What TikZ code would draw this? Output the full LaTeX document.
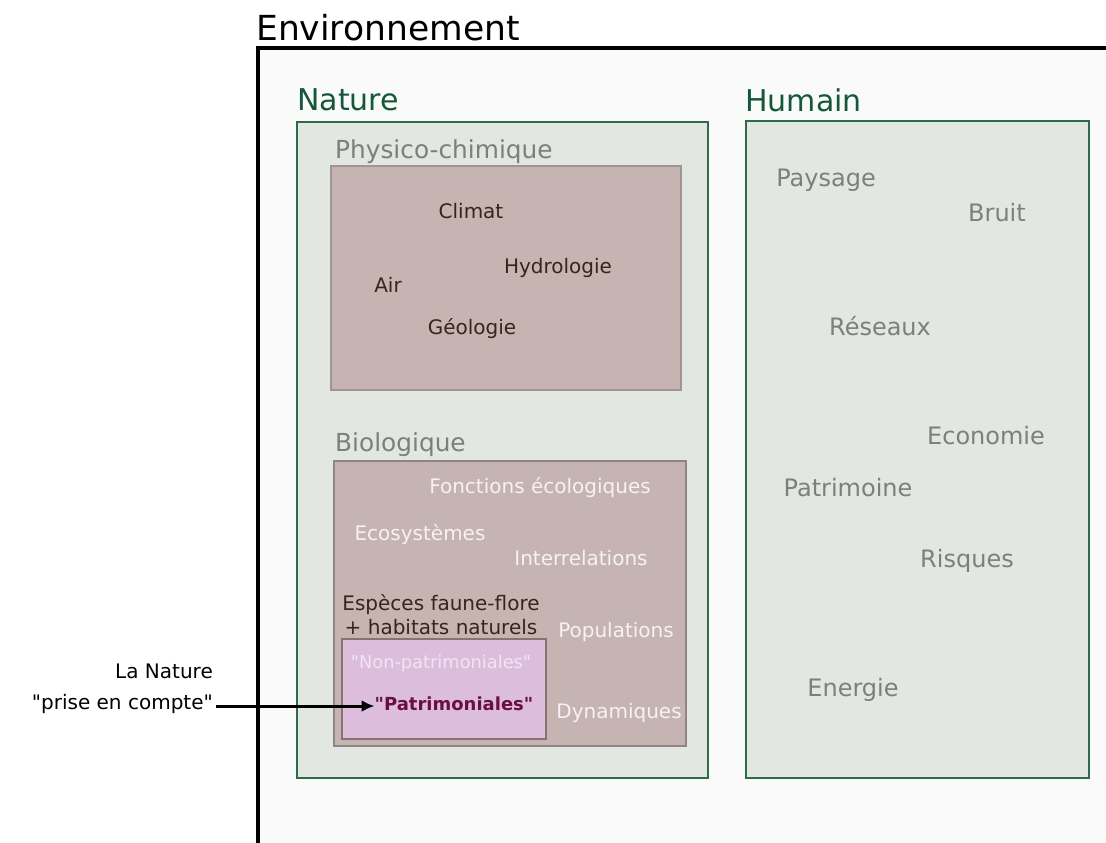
\documentclass[tikz,border=0pt]{standalone}
\usepackage{fontspec}
\setmainfont{DejaVu Sans}
\newfontfamily\qfont{DejaVu Sans}
\usetikzlibrary{arrows.meta}
\definecolor{envfill}{HTML}{FAFAFA}
\definecolor{grpfill}{HTML}{E3E7E2}
\definecolor{grpline}{HTML}{2E6B4A}
\definecolor{grptitle}{HTML}{15573A}
\definecolor{subtitle}{HTML}{7B807B}
\definecolor{mauve}{HTML}{C6B4B3}
\definecolor{mauveline}{HTML}{A09494}
\definecolor{darktext}{HTML}{35251A}
\definecolor{lighttext}{HTML}{F7F2F2}
\definecolor{pinkfill}{HTML}{DCBEDC}
\definecolor{pinkline}{HTML}{8A7272}
\definecolor{patri}{HTML}{6B0F3E}
\definecolor{humtext}{HTML}{7A817A}
\definecolor{nonpat}{HTML}{F3E4F3}
\newcommand{\dq}{{\qfont\symbol{34}}}
\tikzset{
  fs/.style={font=\fontsize{#1}{1.2\dimexpr #1pt\relax}\selectfont},
  lbl/.style={inner sep=0pt, anchor=center},
  title/.style={lbl, anchor=west},
  phys/.style={lbl, fs=20, text=darktext},
  bio/.style={lbl, fs=20, text=lighttext},
  hum/.style={lbl, fs=24, text=humtext},
}
\begin{document}
\begin{tikzpicture}[x=1pt,y=-1pt]
\useasboundingbox (0,0) rectangle (1106,843);
\fill[white] (0,0) rectangle (1106,843);
\begin{scope}
\clip (0,0) rectangle (1106,843);
\draw[line width=4.5pt, fill=envfill] (258,48) rectangle (1130,870);
\end{scope}
\node[title, fs=34.5] (env) at (256,28) {Environnement};
% Nature
\draw[line width=2pt, draw=grpline, fill=grpfill] (297,122) rectangle (708,778);
\node[title, fs=30, text=grptitle] (nature) at (297,100) {Nature};
% Humain
\draw[line width=2pt, draw=grpline, fill=grpfill] (746,121) rectangle (1089,778);
\node[title, fs=30, text=grptitle] (humain) at (745,100) {Humain};
% Physico-chimique
\node[title, fs=24.8, text=subtitle] (phystitle) at (335,152) {Physico-chimique};
\draw[line width=1.4pt, draw=mauveline, fill=mauve] (331,166) rectangle (681,390);
\node[phys] (climat) at (471,211) {Climat};
\node[phys] (hydro) at (558,268) {Hydrologie};
\node[phys] (air) at (388,285) {Air};
\node[phys] (geol) at (472,329) {Géologie};
% Biologique
\node[title, fs=24.8, text=subtitle] (biotitle) at (335,445) {Biologique};
\draw[line width=1.4pt, draw=mauveline!90!black, fill=mauve] (334,461) rectangle (686,746);
\node[bio] (fonct) at (540,488) {Fonctions écologiques};
\node[bio] (eco) at (420,535) {Ecosystèmes};
\node[bio] (inter) at (581,558) {Interrelations};
\node[lbl, fs=20, text=darktext, align=center] (esp) at (441,615) {Espèces faune-flore\\+ habitats naturels};
\node[bio] (pop) at (616,632) {Populations};
\node[bio] (dyn) at (619,713) {Dynamiques};
\draw[line width=1.4pt, draw=pinkline, fill=pinkfill] (342,639) rectangle (546,739);
\node[lbl, fs=17.8, text=nonpat] (nonpat) at (441,664) {\dq Non-patrimoniales\dq};
\node[lbl, fs=18, text=patri] (pat) at (454,704) {\bfseries \dq Patrimoniales\dq};
% Humain items
\node[hum] (pays) at (826,180) {Paysage};
\node[hum] (bruit) at (997,213) {Bruit};
\node[hum] (reseaux) at (880,326) {Réseaux};
\node[hum] (econ) at (986,436) {Economie};
\node[hum] (patrim) at (848,488) {Patrimoine};
\node[hum] (risq) at (967,561) {Risques};
\node[hum] (ener) at (853,690) {Energie};
% Left label and arrow
\node[lbl, anchor=east, fs=20, align=right] (prise) at (213,689) {La Nature\\[7pt]\dq prise en compte\dq};
\coordinate (pstart) at (216,706);
\draw[line width=3pt, -{Latex[length=13pt,width=12pt]}] (pstart) -- (pat.west |- pstart);
\end{tikzpicture}
\end{document}
